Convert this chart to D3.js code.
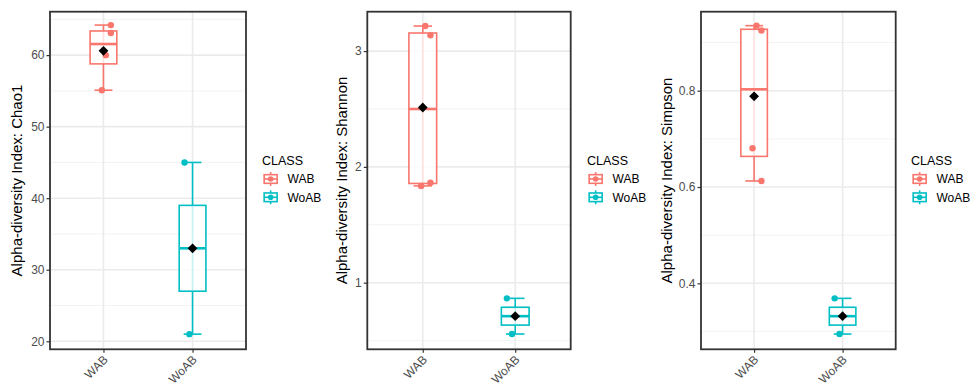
<!DOCTYPE html>
<html>
<head>
<meta charset="utf-8">
<script src="https://cdn.jsdelivr.net/npm/d3@7"></script>
<style>
  html, body { margin: 0; padding: 0; background: #ffffff; }
  svg { display: block; }
  text { font-family: "Liberation Sans", Arial, Helvetica, sans-serif; }
</style>
</head>
<body>
<svg id="chart" width="979" height="383"></svg>
<script>
// Alpha-diversity per sample, grouped by CLASS
const classes = ["WAB", "WoAB"];
const sampleClass = ["WAB", "WAB", "WAB", "WAB", "WoAB", "WoAB"];
const chao1Values = [64.2, 63.1, 60.0, 55.1, 45.0, 21.0];
const shannonValues = [3.136, 1.864, 3.216, 1.836, 0.865, 0.557];
const simpsonValues = [0.925, 0.6125, 0.935, 0.6806, 0.3688, 0.2947];

// horizontal jitter of each sample's point, as a fraction of the category step
const pointJitter = [0.083, 0.083, 0.027, -0.018, -0.09, -0.035];

// axis ticks
const chao1Ticks = [20, 30, 40, 50, 60];
const chao1Minor = [25, 35, 45, 55, 65];
const shannonTicks = [1, 2, 3];
const shannonMinor = [0.5, 1.5, 2.5];
const simpsonTicks = [0.4, 0.6, 0.8];
const simpsonMinor = [0.3, 0.5, 0.7, 0.9];

const classColor = d3.scaleOrdinal().domain(classes).range(["#F8766D", "#00BFC4"]);

const panelTop = 11.7, panelBottom = 349.3;
const panels = [
  { metric: "Chao1", values: chao1Values, domain: [18.88, 66.07], ticks: chao1Ticks, minor: chao1Minor,
    fmt: d3.format("d"), left: 50, right: 246, titleX: 22, legendX: 262 },
  { metric: "Shannon", values: shannonValues, domain: [0.425, 3.34], ticks: shannonTicks, minor: shannonMinor,
    fmt: d3.format("d"), left: 367.3, right: 570.7, titleX: 347, legendX: 587 },
  { metric: "Simpson", values: simpsonValues, domain: [0.263, 0.964], ticks: simpsonTicks, minor: simpsonMinor,
    fmt: d3.format(".1f"), left: 701, right: 895.7, titleX: 672, legendX: 911 }
];

const svg = d3.select("#chart");

function boxStats(vals) {
  const s = vals.slice().sort(d3.ascending);
  return {
    min: s[0],
    q1: d3.quantileSorted(s, 0.25),
    median: d3.quantileSorted(s, 0.5),
    q3: d3.quantileSorted(s, 0.75),
    max: s[s.length - 1],
    mean: d3.mean(s)
  };
}

panels.forEach(p => {
  const g = svg.append("g");
  const x = d3.scalePoint().domain(classes).range([p.left, p.right]).padding(0.6);
  const step = x.step();
  const y = d3.scaleLinear().domain(p.domain).range([panelBottom, panelTop]);

  // panel grid
  const grid = g.append("g");
  grid.selectAll("line.minor").data(p.minor).join("line")
    .attr("x1", p.left).attr("x2", p.right)
    .attr("y1", d => y(d)).attr("y2", d => y(d))
    .attr("stroke", "#F2F2F2").attr("stroke-width", 0.9);
  grid.selectAll("line.majory").data(p.ticks).join("line")
    .attr("x1", p.left).attr("x2", p.right)
    .attr("y1", d => y(d)).attr("y2", d => y(d))
    .attr("stroke", "#EBEBEB").attr("stroke-width", 1.6);
  grid.selectAll("line.majorx").data(classes).join("line")
    .attr("x1", d => x(d)).attr("x2", d => x(d))
    .attr("y1", panelTop).attr("y2", panelBottom)
    .attr("stroke", "#EBEBEB").attr("stroke-width", 1.6);

  // boxes per class
  classes.forEach(c => {
    const vals = p.values.filter((v, i) => sampleClass[i] === c);
    const st = boxStats(vals);
    const col = classColor(c);
    const cx = x(c);
    const bg = g.append("g");

    // error bar (full range with caps)
    bg.append("line")
      .attr("x1", cx).attr("x2", cx).attr("y1", y(st.min)).attr("y2", y(st.max))
      .attr("stroke", col).attr("stroke-width", 1.6);
    [st.min, st.max].forEach(v => {
      bg.append("line")
        .attr("x1", cx - step * 0.1).attr("x2", cx + step * 0.1)
        .attr("y1", y(v)).attr("y2", y(v))
        .attr("stroke", col).attr("stroke-width", 1.6);
    });

    // box
    bg.append("rect")
      .attr("x", cx - step * 0.15).attr("width", step * 0.3)
      .attr("y", y(st.q3)).attr("height", y(st.q1) - y(st.q3))
      .attr("fill", "#ffffff").attr("fill-opacity", 0.78)
      .attr("stroke", col).attr("stroke-width", 1.6);
    bg.append("line")
      .attr("x1", cx - step * 0.15).attr("x2", cx + step * 0.15)
      .attr("y1", y(st.median)).attr("y2", y(st.median))
      .attr("stroke", col).attr("stroke-width", 2.6);

    // sample points
    p.values.forEach((v, i) => {
      if (sampleClass[i] !== c) return;
      bg.append("circle")
        .attr("cx", cx + pointJitter[i] * step).attr("cy", y(v)).attr("r", 3.2)
        .attr("fill", col);
    });

    // mean marker
    bg.append("path")
      .attr("d", d3.symbol(d3.symbolSquare, 48)())
      .attr("transform", `translate(${cx},${y(st.mean)}) rotate(45)`)
      .attr("fill", "#000000");
  });

  // panel border
  g.append("rect")
    .attr("x", p.left).attr("y", panelTop)
    .attr("width", p.right - p.left).attr("height", panelBottom - panelTop)
    .attr("fill", "none").attr("stroke", "#333333").attr("stroke-width", 1.8);

  // y axis
  const ya = g.append("g").attr("transform", `translate(${p.left},0)`)
    .call(d3.axisLeft(y).tickValues(p.ticks).tickFormat(p.fmt).tickSize(3.5).tickPadding(2));
  ya.select(".domain").remove();
  ya.selectAll(".tick line").attr("stroke", "#333333").attr("stroke-width", 1.2);
  ya.selectAll(".tick text").attr("fill", "#4D4D4D").attr("font-size", 12)
    .style("font-family", '"Liberation Sans", Arial, sans-serif');

  // x axis
  const xa = g.append("g").attr("transform", `translate(0,${panelBottom})`)
    .call(d3.axisBottom(x).tickSize(3.5).tickFormat(d => d));
  xa.select(".domain").remove();
  xa.selectAll(".tick line").attr("stroke", "#333333").attr("stroke-width", 1.2);
  xa.selectAll(".tick text")
    .attr("fill", "#4D4D4D").attr("font-size", 12)
    .style("font-family", '"Liberation Sans", Arial, sans-serif')
    .attr("text-anchor", "end")
    .attr("y", 0).attr("dy", "0.72em")
    .attr("transform", "translate(-1.5,5) rotate(-45)");

  // y title
  g.append("text")
    .attr("transform", `translate(${p.titleX},${(panelTop + panelBottom) / 2}) rotate(-90)`)
    .attr("text-anchor", "middle")
    .attr("font-size", 15).attr("fill", "#000000")
    .text(`Alpha-diversity Index: ${p.metric}`);

  // legend
  const lg = g.append("g").attr("transform", `translate(${p.legendX},0)`);
  lg.append("text").attr("x", 0).attr("y", 164.5)
    .attr("font-size", 12.5).attr("fill", "#000000").text("CLASS");
  const key = 17.3;
  classes.forEach((c, k) => {
    const cy = 179 + k * 18.3;
    const col = classColor(c);
    const kg = lg.append("g").attr("transform", `translate(0,${cy - key / 2})`);
    kg.append("line").attr("x1", key / 2).attr("x2", key / 2)
      .attr("y1", key * 0.1).attr("y2", key * 0.25).attr("stroke", col).attr("stroke-width", 1.6);
    kg.append("line").attr("x1", key / 2).attr("x2", key / 2)
      .attr("y1", key * 0.75).attr("y2", key * 0.9).attr("stroke", col).attr("stroke-width", 1.6);
    kg.append("rect").attr("x", key * 0.125).attr("y", key * 0.25)
      .attr("width", key * 0.75).attr("height", key * 0.5)
      .attr("fill", "#ffffff").attr("stroke", col).attr("stroke-width", 1.6);
    kg.append("line").attr("x1", key * 0.125).attr("x2", key * 0.875)
      .attr("y1", key / 2).attr("y2", key / 2).attr("stroke", col).attr("stroke-width", 1.6);
    kg.append("circle").attr("cx", key / 2).attr("cy", key / 2).attr("r", 2.8).attr("fill", col);
    lg.append("text").attr("x", key + 8.2).attr("y", cy).attr("dy", "0.36em")
      .attr("font-size", 12).attr("fill", "#000000").text(c);
  });
});
</script>
</body>
</html>
